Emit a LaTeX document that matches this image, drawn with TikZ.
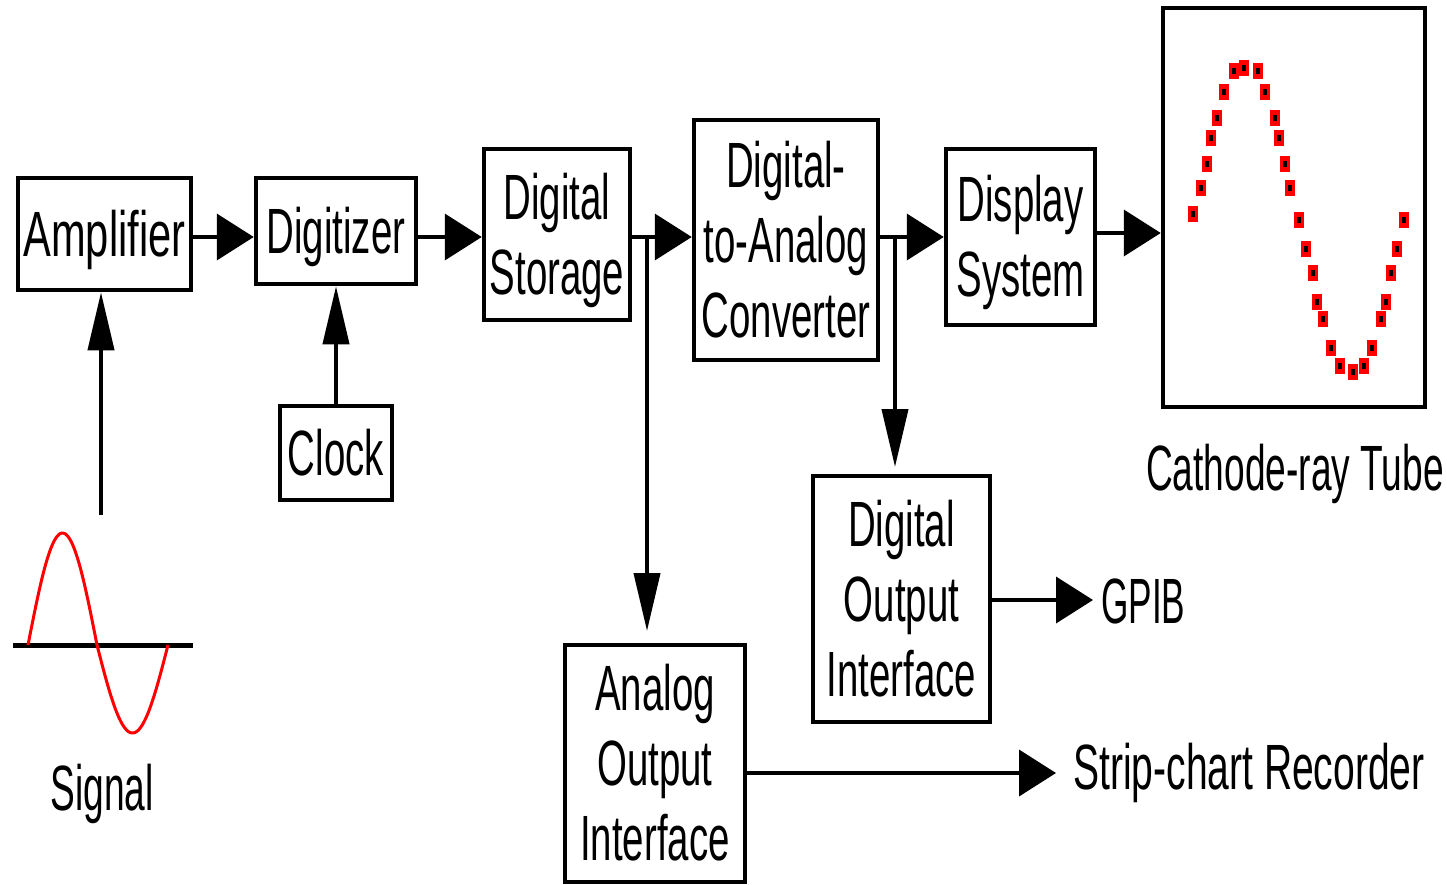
\documentclass[tikz,border=0pt]{standalone}
\usepackage{fontspec}
\setmainfont{Liberation Sans}
\usetikzlibrary{arrows.meta,calc}
\newcommand\sqz[2][0.6]{\raisebox{-7pt}[\height][\depth]{\scalebox{#1}[1]{\begin{tabular}{@{}c@{}}#2\end{tabular}}}}
\begin{document}
\begin{tikzpicture}[x=1pt,y=-1pt,
  blk/.style={draw,line width=4.5pt,inner sep=0pt,font=\fontsize{64}{75}\selectfont},
  ln/.style={line width=4pt},
  harr/.style={ln,-{Triangle[length=37pt,width=46pt]}},
  varr/.style={ln,-{Triangle[length=58pt,width=26pt]}},
  lbl/.style={inner sep=0pt,font=\fontsize{64}{75}\selectfont}]
\useasboundingbox (0,0) rectangle (1447,884);
% blocks
\node[blk,minimum width=173pt,minimum height=112pt] (amp) at (104.5,234) {\sqz[0.65]{Amplifier}};
\node[blk,minimum width=160pt,minimum height=106pt] (dig) at (336,231) {\sqz{Digitizer}};
\node[blk,minimum width=146pt,minimum height=171pt] (sto) at (557,234.5) {\sqz{Digital\\Storage}};
\node[blk,minimum width=184pt,minimum height=240pt] (dac) at (786,240) {\sqz{Digital-\\to-Analog\\Converter}};
\node[blk,minimum width=149pt,minimum height=176pt] (disp) at (1020.5,237) {\sqz{Display\\System}};
\node[blk,minimum width=262pt,minimum height=399pt] (crt) at (1294,207.5) {};
\node[blk,minimum width=112pt,minimum height=94pt] (clk) at (336,453) {\sqz{Clock}};
\node[blk,minimum width=177pt,minimum height=246pt] (dout) at (901.5,599) {\sqz{Digital\\Output\\Interface}};
\node[blk,minimum width=180pt,minimum height=237pt] (aout) at (655,763.5) {\sqz{Analog\\Output\\Interface}};
% labels
\node[lbl] (sig) at (102,788) {\sqz[0.58]{Signal}};
\node[lbl] (crtl) at (1295,468) {\sqz[0.58]{Cathode-ray Tube}};
\node[lbl,anchor=west] (gpib) at (1101,601) {\sqz[0.55]{GPIB}};
\node[lbl,anchor=west] (strip) at (1073,767) {\sqz[0.61]{Strip-chart Recorder}};
% coordinates
\coordinate (m) at (0,237);
\coordinate (sigtop) at (101,515);
\coordinate (b1) at (647,237);
\coordinate (b1e) at (647,631);
\coordinate (b2) at (895,237);
\coordinate (b2e) at (895,467);
\coordinate (g) at (0,600);
\coordinate (ge) at (1093,600);
\coordinate (s) at (0,773);
\coordinate (se) at (1056,773);
\coordinate (c) at (0,233);
% connectors
\draw[harr] (amp.east |- m) -- (dig.west |- m);
\draw[harr] (dig.east |- m) -- (sto.west |- m);
\draw[harr] (sto.east |- m) -- (dac.west |- m);
\draw[harr] (dac.east |- m) -- (disp.west |- m);
\draw[harr] (disp.east |- c) -- (crt.west |- c);
\draw[varr] (sigtop) -- (sigtop |- amp.south);
\draw[varr] (clk.north) -- (dig.south);
\draw[varr] (b1) -- (b1e);
\draw[varr] (b2) -- (b2e);
\draw[harr] (dout.east |- g) -- (ge);
\draw[harr] (aout.east |- s) -- (se);
% signal waveform
\draw[line width=5pt] (13,645) -- (193,645);
\draw[red,line width=3pt] plot[domain=28:97,samples=60] (\x,{645-112*sin((\x-28)/69*180)});
\draw[red,line width=3pt] plot[domain=97:168,samples=60] (\x,{645+88*sin((\x-97)/71*180)});
% CRT trace
\foreach \px/\py in {1193/214,1201/188,1207/164,1211/138,1217/118,1224/92,1234/71,1244/68,1258/71,1265/92,1275/118,1279/138,1285/164,1290/188,1299/220,1306/249,1313/273,1317/302,1323/319,1331/348,1340/366,1353/372,1364/366,1372/348,1381/319,1386/302,1391/273,1397/249,1404/220}{
  \fill[red] (\px-5,\py-8) rectangle (\px+5,\py+8);
  \fill[black] (\px-2,\py-3) rectangle (\px+2,\py+3);
}
\end{tikzpicture}
\end{document}
